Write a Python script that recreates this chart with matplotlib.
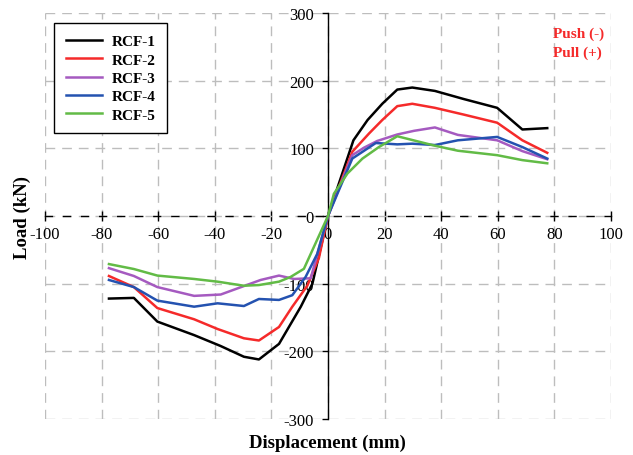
import matplotlib
matplotlib.use("Agg")
import matplotlib.pyplot as plt

plt.rcParams['font.family'] = ['Liberation Serif', 'DejaVu Serif']
plt.rcParams['axes.unicode_minus'] = False

labels = ["RCF-1", "RCF-2", "RCF-3", "RCF-4", "RCF-5"]
colors = ["#000000", "#f52a2a", "#a55ac0", "#2452b0", "#62bb46"]

x1 = [-77.4, -68.6, -60.3, -47.3, -38, -29.7, -24.4, -17.3, -9.6, -5.5, 0, 9, 14, 19.2, 24.5, 29.8, 37.8, 48, 59.8, 68.7, 77.5]
y1 = [-122, -121, -156, -176, -192, -208, -212, -189, -134, -100, 0, 112, 142, 166, 187, 190, 185, 173, 160, 128, 130]

x2 = [-77.4, -68.6, -60.3, -47.3, -39, -29.7, -24.4, -17.3, -12.6, -7.3, -3.2, 0, 8.6, 14.5, 19.2, 24.5, 29.8, 37.8, 48, 59.8, 68.7, 77.5]
y2 = [-88.6, -105, -136, -152.6, -167, -180.7, -184, -164, -134, -103, -62, 0, 95, 122, 142, 162.5, 166, 160, 150, 138, 112, 93.5]

x3 = [-77.4, -68.6, -60.3, -47.3, -37.9, -23.8, -17.3, -12, -6.1, 0, 8.6, 12.7, 17.4, 24.5, 30.4, 37.8, 45.9, 59.8, 68.7, 77.5]
y3 = [-77, -88.6, -105, -118, -116, -94.5, -88, -93, -92, 0, 90, 101, 111, 120.6, 126, 131, 120, 112, 96, 84]

x4 = [-77.4, -68.6, -60.3, -47.3, -39, -29.7, -24.4, -17.3, -12.6, -7.9, -3.8, 0, 8.6, 16.9, 24.5, 29.8, 37.8, 45.9, 59.8, 68.7, 77.5]
y4 = [-94.5, -105, -125, -134, -129, -133, -122.6, -124, -117, -90, -56, 0, 85, 108, 106, 107, 105, 112, 117, 102, 85]

x5 = [-77.4, -68.6, -60.3, -47.3, -39, -29.7, -24.4, -17.3, -13.2, -8.5, 0, 2.1, 6.9, 12.2, 18, 24.5, 37.8, 45.9, 59.8, 68.7, 77.5]
y5 = [-71, -78.3, -88, -93, -97, -103, -102, -97, -90, -78, 0, 33, 63, 85, 102, 118, 104, 96.6, 90, 82.7, 78]

xs = [x1, x2, x3, x4, x5]
ys = [y1, y2, y3, y4, y5]

xticks = [-100, -80, -60, -40, -20, 0, 20, 40, 60, 80, 100]
yticks = [-300, -200, -100, 0, 100, 200, 300]

fig = plt.figure(figsize=(6.33, 4.56), dpi=100)
ax = fig.add_axes([0.0711, 0.079, 0.894, 0.890])

for x, y, c, lab in zip(xs, ys, colors, labels):
    ax.plot(x, y, color=c, lw=1.8, label=lab, zorder=3)

ax.set_xlim(-100, 100)
ax.set_ylim(-300, 300)
ax.set_xticks(xticks)
ax.set_yticks(yticks)
ax.grid(True, color='#bdbdbd', linestyle=(0, (7, 5)), linewidth=1.0, zorder=0)

ax.spines['left'].set_position(('data', 0))
ax.spines['bottom'].set_position(('data', 0))
ax.spines['left'].set_linewidth(1.0)
ax.spines['bottom'].set_linewidth(1.0)
ax.spines['bottom'].set_linestyle((0, (5, 8)))
ax.spines['top'].set_visible(False)
ax.spines['right'].set_visible(False)

ax.tick_params(axis='x', direction='inout', length=7, width=1, labelsize=12, pad=4)
ax.tick_params(axis='y', direction='out', length=4, width=1, labelsize=12, pad=6)
for t in ax.get_xticklabels() + ax.get_yticklabels():
    t.set_zorder(5)

fig.text(0.035, 0.522, "Load (kN)", rotation=90, ha='center', va='center',
         fontsize=13.5, fontweight='bold')
fig.text(0.517, 0.027, "Displacement (mm)", ha='center', va='center',
         fontsize=13.5, fontweight='bold')

leg = ax.legend(loc='upper left', bbox_to_anchor=(0.016, 0.975), frameon=True,
                fancybox=False, edgecolor='black', framealpha=1,
                prop={'weight': 'bold', 'size': 11}, handlelength=2.4,
                labelspacing=0.3, borderpad=0.75, handletextpad=0.6,
                borderaxespad=0)
leg.get_frame().set_linewidth(1.0)

ax.text(79.4, 270, "Push (-)", color='#f52a2a', fontsize=11, fontweight='bold',
        ha='left', va='center')
ax.text(79.4, 242, "Pull (+)", color='#f52a2a', fontsize=11, fontweight='bold',
        ha='left', va='center')

fig.savefig("out.png", dpi=100)
